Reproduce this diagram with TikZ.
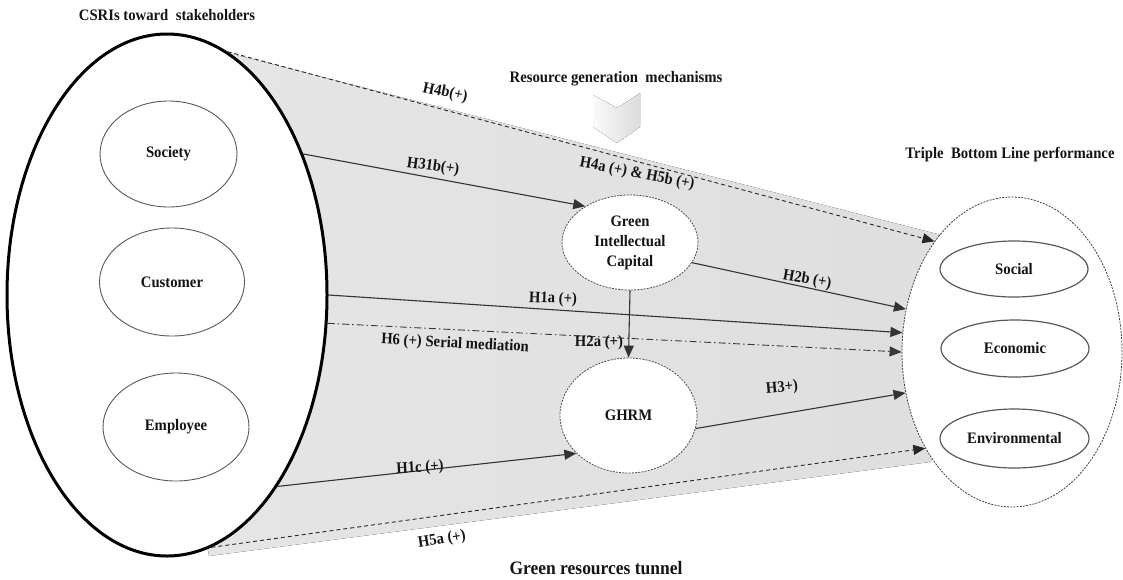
\documentclass[tikz,border=0pt]{standalone}
\usepackage{fontspec}
\setmainfont[FakeStretch=0.92]{Liberation Serif}
\usetikzlibrary{shapes.geometric,arrows.meta}
\begin{document}
\begin{tikzpicture}[x=1pt,y=-1pt,
  txt/.style={font=\fontsize{16}{20}\selectfont\bfseries, inner sep=0, text=black!92, align=center},
  big/.style={font=\fontsize{19}{22}\selectfont\bfseries, inner sep=0, text=black!92},
  tipa/.style={-{Triangle[length=12pt,width=10pt]}},
  arr/.style={tipa, draw=black!80, line width=1.1pt},
  dsh/.style={tipa, draw=black!85, line width=0.9pt, dash pattern=on 4pt off 3pt},
  dshdot/.style={tipa, draw=black!78, line width=0.9pt, dash pattern=on 7pt off 3pt on 1.5pt off 3pt},
  inner/.style={ellipse, draw=black!65, line width=0.9pt, fill=white, inner sep=0, txt},
  med/.style={ellipse, draw=black!70, line width=0.8pt, dash pattern=on 2pt off 1.2pt, fill=white, inner sep=0, txt},
  outer/.style={ellipse, draw=black, line width=3pt, fill=white, inner sep=0},
  tblsty/.style={ellipse, draw=black!75, line width=0.8pt, dash pattern=on 2pt off 1.2pt, fill=white, inner sep=0},
  tunnel/.style={left color=black!10, middle color=black!3, right color=black!13}
]
\useasboundingbox (0,0) rectangle (1123,579);

% tunnel shading
\fill[tunnel] (228,53) -- (945,236) -- (1012,352) -- (930,462) -- (209,556) -- (167,297) -- cycle;

% chevron
\fill[left color=black!2, right color=black!14] (593,95) -- (617,108) -- (640,93) -- (640,127) -- (617,143) -- (593,127) -- cycle;

% outer containers
\node[outer, minimum width=320pt, minimum height=522pt] (csr) at (167,295) {};
\node[tblsty, minimum width=220pt, minimum height=310pt] (tbl) at (1012,352) {};

% stakeholder ellipses
\node[inner, minimum width=137pt, minimum height=106pt] (soc) at (168.5,154) {Society};
\node[inner, minimum width=145pt, minimum height=108pt] (cus) at (172,282) {Customer};
\node[inner, minimum width=146pt, minimum height=108pt] (emp) at (176,427) {Employee};

% mediators
\node[med, minimum width=136pt, minimum height=95pt] (gic) at (630,242.5) {Green\\Intellectual\\Capital};
\node[med, minimum width=137pt, minimum height=115pt] (ghrm) at (628.5,415.5) {GHRM};

% TBL ellipses
\node[inner, minimum width=148pt, minimum height=56pt, line width=1.2pt] (social) at (1014,269) {Social};
\node[inner, minimum width=148pt, minimum height=57pt, line width=1.2pt] (econ) at (1015,348.5) {Economic};
\node[inner, minimum width=149pt, minimum height=59pt, line width=1.2pt] (env) at (1014.5,438.5) {Environmental};

% connectors
\draw[dsh] (csr.76) -- (tbl.125);
\draw[dsh] (csr.-80.7) -- (tbl.228);
\draw[arr] (csr.46) -- (gic.141);
\draw[arr] (gic.-18) -- (tbl.158);
\draw[arr] (csr.-0.5) -- (tbl.170);
\draw[dshdot] (csr.-10.4) -- (tbl.180);
\draw[arr] (gic.south) -- (ghrm.north);
\draw[arr] (ghrm.-11) -- (tbl.201);
\draw[arr] (csr.-60.6) -- (ghrm.216);

% titles
\node[txt] (tcsr) at (167,15) {CSRIs toward\ \ stakeholders};
\node[txt] (trgm) at (616,79) {Resource generation\ \ mechanisms};
\node[txt] (ttbl) at (1010,155) {Triple\ \ Bottom Line performance};
\node[big] (tgrt) at (596,568) {Green resources tunnel};

% hypothesis labels
\node[txt, rotate=-12] (h4b) at (445,93) {H4b(+)};
\node[txt, rotate=-8] (h31b) at (433,167) {H31b(+)};
\node[txt, rotate=-11] (h4a) at (637,174) {H4a (+) \& H5b (+)};
\node[txt, rotate=-10] (h2b) at (807,280) {H2b (+)};
\node[txt, rotate=-2] (h1a) at (553,299) {H1a (+)};
\node[txt, rotate=-3] (h6) at (455,344) {H6 (+) Serial mediation};
\node[txt] (h2a) at (599,343) {H2a (+)};
\node[txt, rotate=5] (h3) at (782,388) {H3+)};
\node[txt, rotate=3] (h1c) at (420,468) {H1c (+)};
\node[txt, rotate=9] (h5a) at (442,540) {H5a (+)};
\end{tikzpicture}
\end{document}
